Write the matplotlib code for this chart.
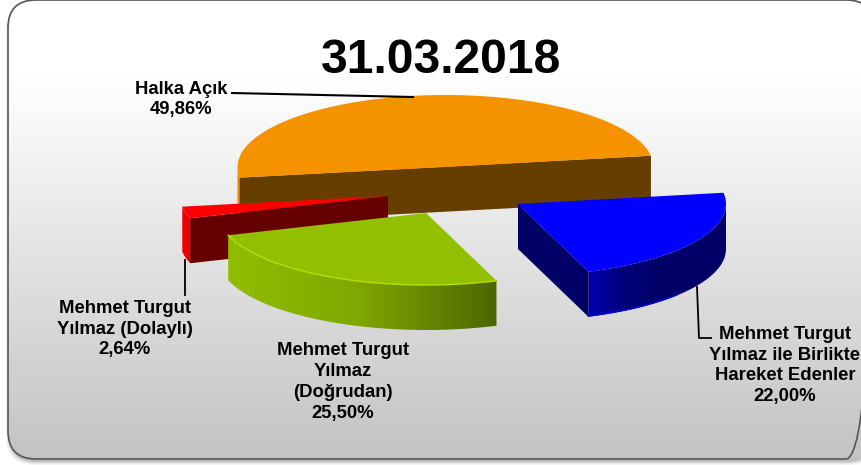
import numpy as np
import matplotlib
matplotlib.use('Agg')
import matplotlib.pyplot as plt
from matplotlib.patches import Polygon, FancyBboxPatch
from matplotlib.colors import LinearSegmentedColormap

title = '31.03.2018'
names = ['Mehmet Turgut\nYılmaz ile Birlikte\nHareket Edenler',
         'Mehmet Turgut\nYılmaz\n(Doğrudan)',
         'Mehmet Turgut\nYılmaz (Dolaylı)',
         'Halka Açık']
shares = [22.00, 25.50, 2.64, 49.86]
value_text = ['22,00%', '25,50%', '2,64%', '49,86%']

top_colors = ['#0000ff', '#92c000', '#ff0000', '#f59200']
cut_colors = ['#000066', '#4d6600', '#660000', '#663f00']
centers = [(518, 204), (426, 213), (388, 196), (445.5, 167)]

RX, RY, DEPTH = 208, 72, 45
START = 9

plt.rcParams['font.family'] = ['Liberation Sans', 'DejaVu Sans']
fig = plt.figure(figsize=(8.62, 4.65), dpi=100)
ax = fig.add_axes([0, 0, 1, 1])
ax.axis('off')


def limits():
    ax.set_xlim(0, 862)
    ax.set_ylim(465, 0)
    ax.set_aspect('auto')


def arc(c, a0, a1, drop=0):
    t = np.radians(np.linspace(a0, a1, 80))
    return np.column_stack([c[0] + RX * np.cos(t), c[1] - RY * np.sin(t) + drop])


def radial(c, a, drop=0):
    t = np.radians(a)
    return np.array([c[0] + RX * np.cos(t), c[1] - RY * np.sin(t) + drop])


def gradient(poly, stops, extent, z):
    cmap = LinearSegmentedColormap.from_list('g', stops)
    g = np.linspace(0, 1, 256).reshape(1, -1)
    im = ax.imshow(g, cmap=cmap, extent=extent, aspect='auto', zorder=z, interpolation='bilinear')
    im.set_clip_path(Polygon(poly, closed=True, transform=ax.transData))


def card_box(dx=0, dy=0, grow=0, **kw):
    return FancyBboxPatch((8 + dx - grow, dy - grow), 866 + 2 * grow, 459 + 2 * grow,
                          boxstyle='round,pad=0,rounding_size=28', **kw)


# soft shadow, then the card
for grow, a in [(3, 0.06), (2, 0.08), (1, 0.12), (0, 0.18)]:
    ax.add_patch(card_box(dx=1, dy=3, grow=grow, fc='#555555', ec='none', alpha=a, zorder=1))
cmap = LinearSegmentedColormap.from_list('bg', [(0, '#ffffff'), (0.17, '#ffffff'), (1, '#c3c3c3')])
im = ax.imshow(np.linspace(0, 1, 256).reshape(-1, 1), cmap=cmap, extent=(8, 874, 459, 0),
               aspect='auto', zorder=2)
im.set_clip_path(card_box(fc='white', transform=ax.transData))
ax.add_patch(card_box(fc='none', ec='#555555', lw=1.2, zorder=3))

# angles come from the shares, clockwise from START
angles = START - np.cumsum([0] + shares) * 3.6
order = [3, 2, 1, 0]
for k, i in enumerate(order):
    z = 10 + k * 3
    c = centers[i]
    a0, a1 = angles[i], angles[i + 1]
    top = np.vstack([[c], arc(c, a0, a1)])
    wall = np.vstack([arc(c, a0, a1), arc(c, a1, a0, DEPTH)])
    if i == 0:
        wall = np.vstack([arc(c, 0, a1), arc(c, a1, 0, DEPTH)])
        gradient(wall, ['#0000b0', '#00007c', '#000066', '#000066', '#000066'],
                 (radial(c, a1)[0], c[0] + RX, 465, 0), z)
        ax.plot(*arc(c, a1, -40, DEPTH - 1).T, color='#0000c8', lw=1.4, zorder=z)
        cut = [c, radial(c, a1), radial(c, a1, DEPTH), (c[0], c[1] + DEPTH)]
        ax.add_patch(Polygon(cut, fc=cut_colors[i], ec='none', zorder=z + 1))
    elif i == 1:
        gradient(wall, ['#90c000', '#7fa800', '#4d6600'],
                 (c[0] - RX, radial(c, a0)[0], 465, 0), z)
    elif i == 2:
        ax.add_patch(Polygon(wall, fc='#ee0000', ec='none', zorder=z))
        cut = [c, radial(c, a0), radial(c, a0, DEPTH), (c[0], c[1] + DEPTH)]
        ax.add_patch(Polygon(cut, fc=cut_colors[i], ec='none', zorder=z + 1))
    else:
        rim = np.vstack([arc(c, 180, 192), arc(c, 192, 180, DEPTH)])
        ax.add_patch(Polygon(rim, fc='#e88a00', ec='none', zorder=z))
        cut = [radial(c, a0), radial(c, a1), radial(c, a1, DEPTH), radial(c, a0, DEPTH)]
        ax.add_patch(Polygon(cut, fc=cut_colors[i], ec='none', zorder=z + 1))
    ax.add_patch(Polygon(top, fc=top_colors[i], ec='none', zorder=z + 2))
    if i == 1:
        ax.plot(*arc(c, a0, a1).T, color='#b4e000', lw=1.0, zorder=z + 2)
limits()

# leader lines
ax.plot([232, 413], [93, 97], color='black', lw=1.5, zorder=30)
ax.plot([185, 185], [260, 295], color='black', lw=1.3, zorder=9)
ax.plot([697, 699, 711], [287, 338, 338], color='black', lw=1.3, zorder=9)

ax.text(441.5, 60.5, title, fontsize=34.6, fontweight='bold', ha='center', va='center', zorder=40)
label_xy = [(785, 365.5), (343, 382), (125, 329), (181, 99.5)]
for i, (x, y) in enumerate(label_xy):
    ax.text(x, y, names[i] + '\n' + value_text[i], fontsize=13.3, fontweight='bold', ha='center',
            va='center', linespacing=1.3, zorder=40)

fig.savefig('out.png', dpi=100, facecolor='white')
